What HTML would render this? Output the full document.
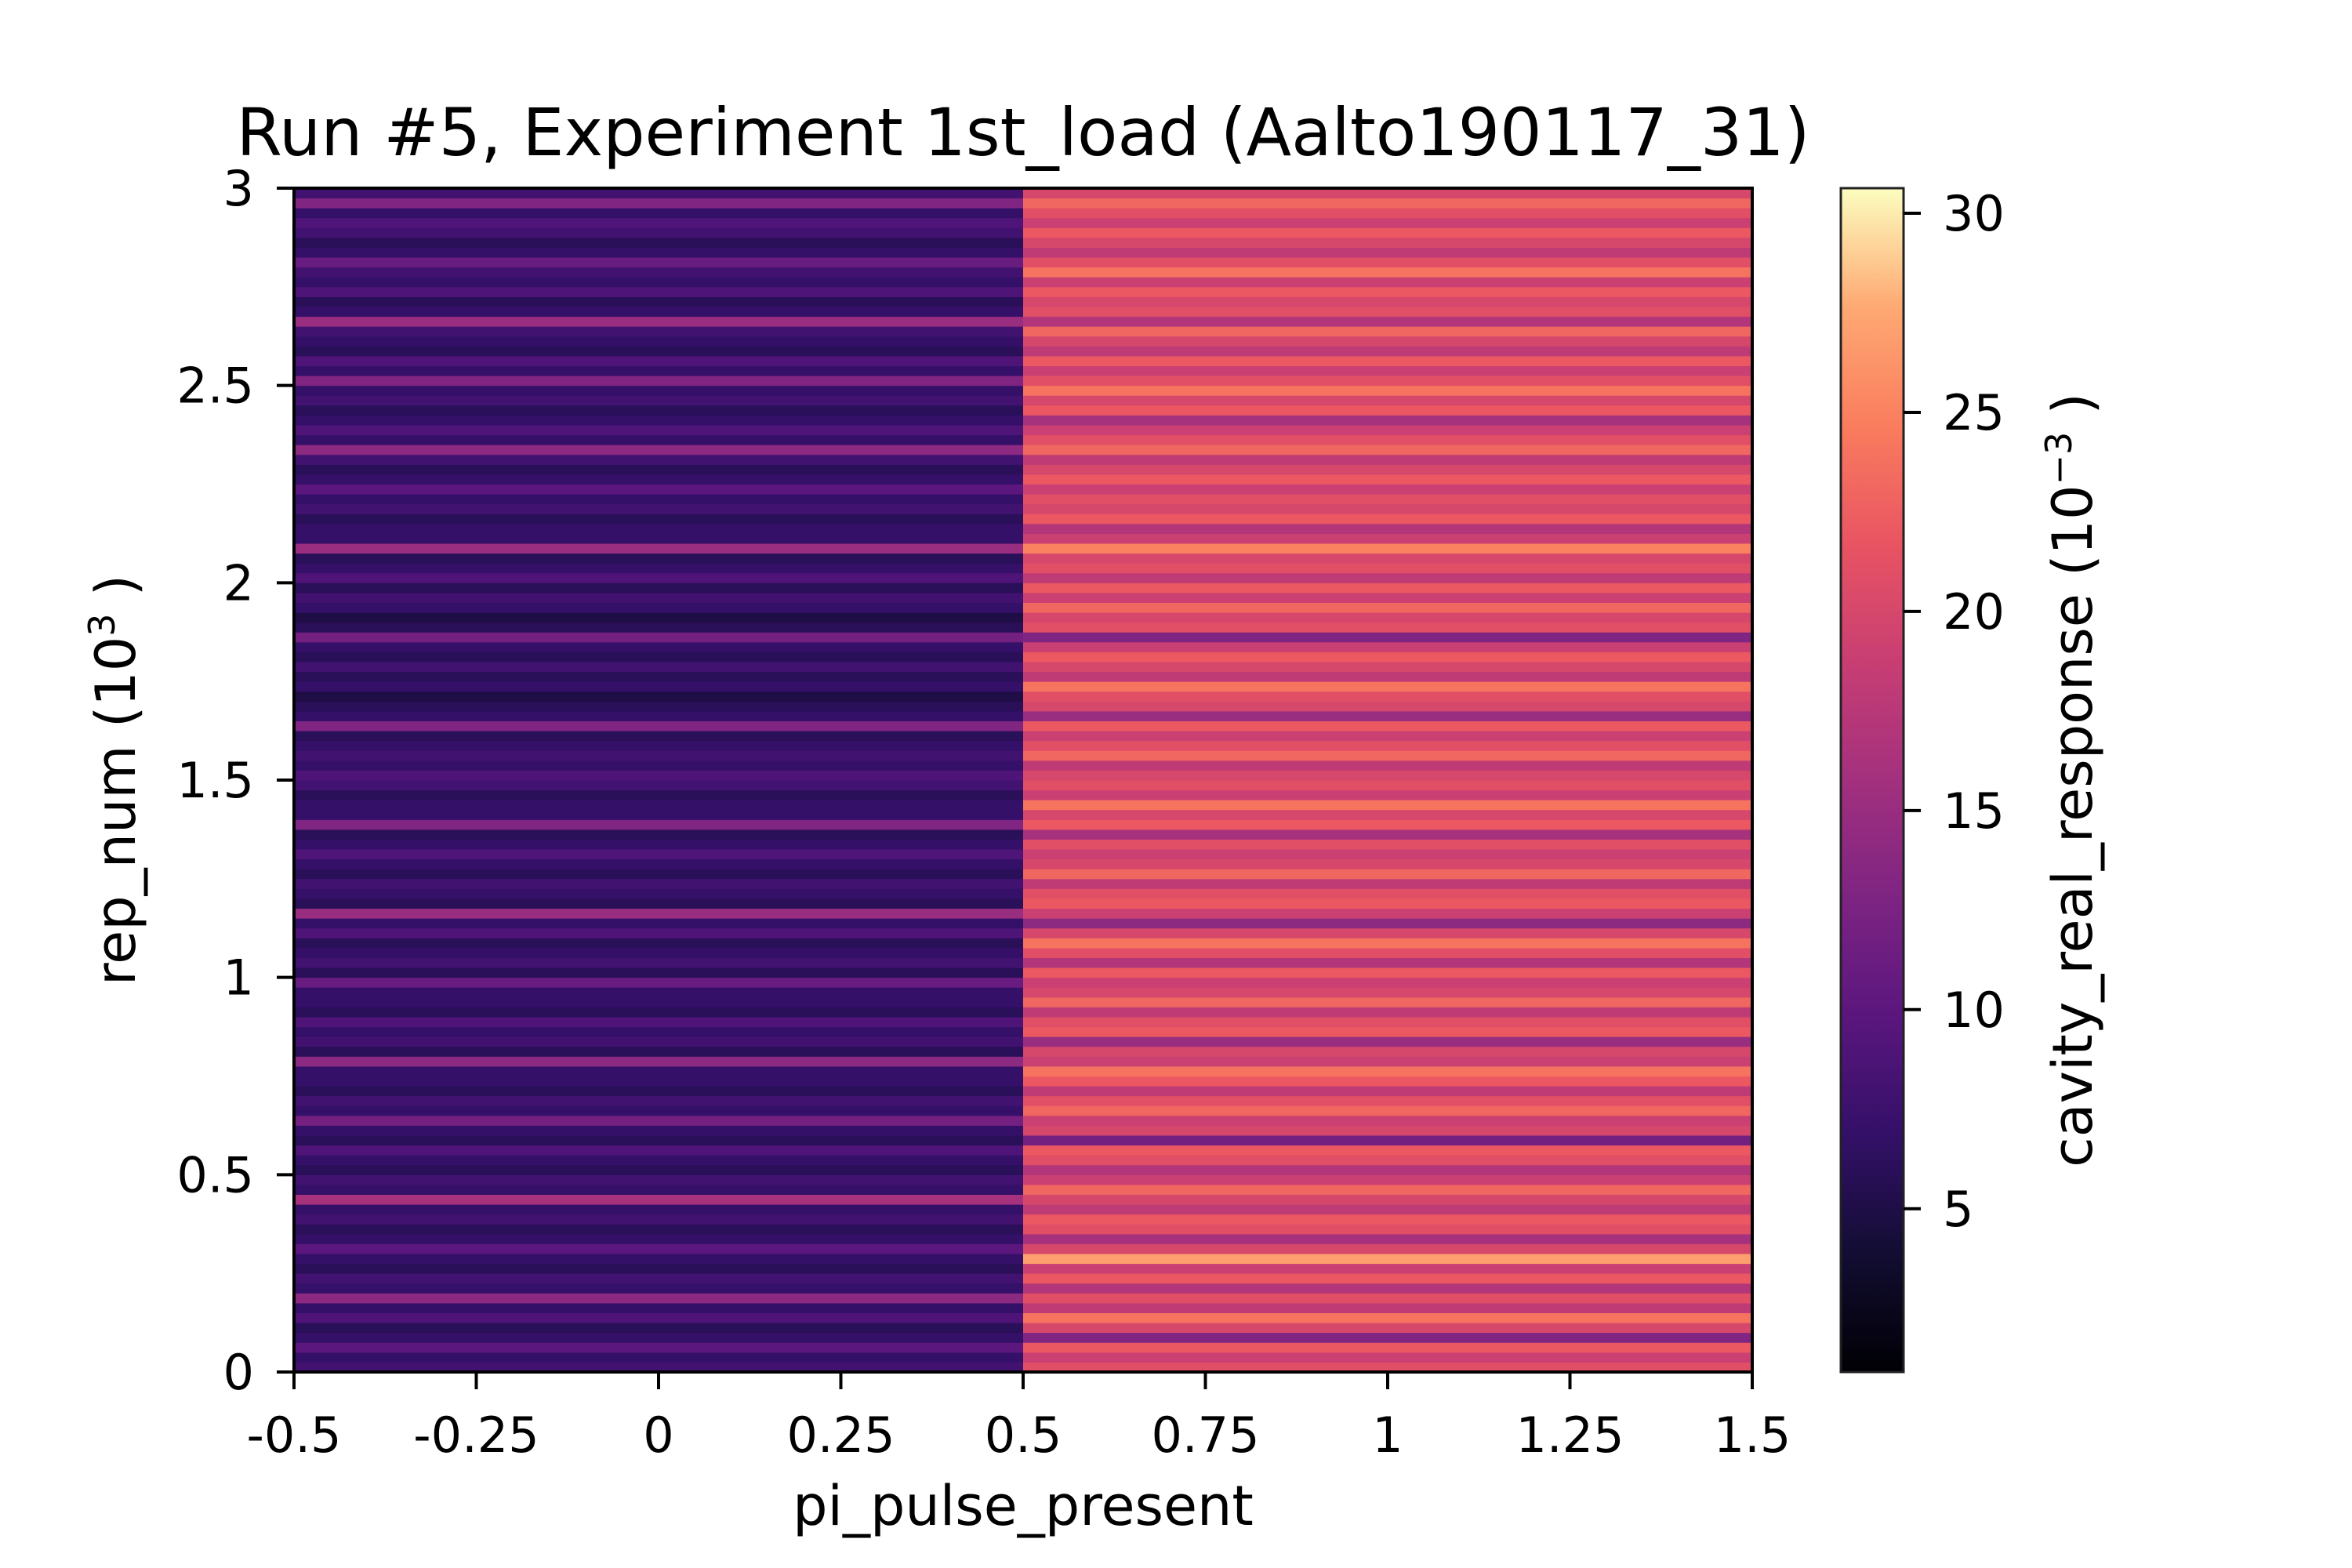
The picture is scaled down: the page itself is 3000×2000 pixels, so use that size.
<!DOCTYPE html>
<html><head><meta charset="utf-8"><style>
html,body{margin:0;padding:0;background:#fff;}
svg{display:block;font-family:"DejaVu Sans","Liberation Sans",sans-serif;}
</style></head><body>
<svg id="chart" width="3000" height="2000" viewBox="0 0 3000 2000" xmlns="http://www.w3.org/2000/svg">
<defs>
<linearGradient id="magma" x1="0" y1="1" x2="0" y2="0">
<stop offset="0" stop-color="#000004"/><stop offset="0.1" stop-color="#120d32"/><stop offset="0.2" stop-color="#331068"/><stop offset="0.3" stop-color="#5a167e"/><stop offset="0.4" stop-color="#7d2482"/><stop offset="0.5" stop-color="#a3307e"/><stop offset="0.6" stop-color="#c83e73"/><stop offset="0.7" stop-color="#e95462"/><stop offset="0.8" stop-color="#fa7d5e"/><stop offset="0.9" stop-color="#fea973"/><stop offset="1" stop-color="#fcfdbf"/>
</linearGradient>
</defs>
<text x="1305" y="198" font-size="84" text-anchor="middle">Run #5, Experiment 1st_load (Aalto190117_31)</text>
<g id="cells"></g>
<rect x="375" y="240" width="1860" height="1510" fill="none" stroke="#000" stroke-width="4"/>
<g id="xaxis"></g>
<g id="yaxis"></g>
<text x="1305" y="1945" font-size="70" text-anchor="middle">pi_pulse_present</text>
<text transform="translate(172,995) rotate(-90)" font-size="70" text-anchor="middle">rep_num (10<tspan font-size="46" dy="-26">3</tspan><tspan dy="26"> )</tspan></text>
<rect x="2348" y="240" width="80" height="1510" fill="url(#magma)" stroke="#222" stroke-width="3"/>
<g id="caxis"></g>
<text transform="translate(2668,995) rotate(-90)" font-size="70" text-anchor="middle">cavity_real_response (10<tspan font-size="46" dy="-26">−3</tspan><tspan dy="26"> )</tspan></text>
</svg>
<script>
const xCategories = [0, 1];
const xTicks = [-0.5, -0.25, 0, 0.25, 0.5, 0.75, 1, 1.25, 1.5];
const xTickLabels = ["-0.5","-0.25","0","0.25","0.5","0.75","1","1.25","1.5"];
const yTicks = [0, 0.5, 1, 1.5, 2, 2.5, 3];
const yTickLabels = ["0","0.5","1","1.5","2","2.5","3"];
const cTicks = [5, 10, 15, 20, 25, 30];
const cRange = [0.9, 30.63];
const repMax = 3;
// values bottom (rep 0) to top (rep 3000), 120 rows each column
const noPulseValues = [8,7,10,7,6,9,7,14,7,8,6,7,10,7,6,8,7,16,7,8,6,7,9,6,7,12,7,8,6,7,
7,14,6,8,7,9,6,7,7,11,6,8,7,6,9,7,15,6,7,8,6,7,9,7,6,13,7,7,6,8,
9,7,8,7,6,13,7,6,5,7,6,8,6,7,12,6,5,7,8,6,9,7,6,15,7,7,6,8,7,10,
7,6,8,14,7,9,7,6,8,7,13,7,9,6,7,8,15,7,6,9,7,8,11,7,6,8,9,7,13,8];
const pulseValues = [21,19,22,13,20,24,18,21,17,22,19,27,20,16,21,22,18,20,23,19,17,21,22,12,20,19,23,21,18,22,
24,19,20,15,22,21,18,23,20,19,22,17,21,24,20,14,19,22,21,18,23,20,19,21,16,22,20,24,19,21,
20,18,23,21,19,22,15,20,21,24,18,20,22,19,13,21,20,23,19,22,18,21,20,25,19,17,22,20,21,19,
22,20,18,23,21,19,16,22,20,24,21,19,22,18,20,23,17,21,20,22,19,24,21,18,20,22,19,21,23,20];
const columns = [noPulseValues, pulseValues];

const NS = "http://www.w3.org/2000/svg";
const PX0 = 375, PX1 = 2235, PY0 = 1750, PY1 = 240, CBX = 2348, CBW = 80;
function xScale(v){ return PX0 + (v + 0.5) / 2 * (PX1 - PX0); }
function yScale(v){ return PY0 - v / repMax * (PY0 - PY1); }
function cScale(v){ return PY0 - (v - cRange[0]) / (cRange[1] - cRange[0]) * (PY0 - PY1); }
const stops = [[0,0,0,4],[0.1,18,13,50],[0.2,51,16,104],[0.3,90,22,126],[0.4,125,36,130],[0.5,163,48,126],[0.6,200,62,115],[0.7,233,84,98],[0.8,250,125,94],[0.9,254,169,115],[1,252,253,191]];
function magma(v){
  let t = Math.max(0, Math.min(1, (v - cRange[0]) / (cRange[1] - cRange[0])));
  for (let i = 1; i < stops.length; i++) {
    if (t <= stops[i][0]) {
      const a = stops[i-1], b = stops[i], f = (t - a[0]) / (b[0] - a[0]);
      return "rgb(" + [1,2,3].map(k => Math.round(a[k] + f * (b[k] - a[k]))).join(",") + ")";
    }
  }
  return "rgb(252,253,191)";
}
function mk(tag, attrs, parent){ const e = document.createElementNS(NS, tag); for (const k in attrs) e.setAttribute(k, attrs[k]); parent.appendChild(e); return e; }

const cells = document.getElementById("cells");
columns.forEach((vals, ci) => {
  const n = vals.length;
  vals.forEach((v, ri) => {
    const y0 = yScale(ri / n * repMax), y1 = yScale((ri + 1) / n * repMax);
    const r = mk("rect", {x: xScale(xCategories[ci] - 0.5), y: y1, width: xScale(xCategories[ci] + 0.5) - xScale(xCategories[ci] - 0.5), height: y0 - y1 + 0.5, fill: magma(v)}, cells);
    
    
  });
});

const xa = document.getElementById("xaxis");
xTicks.forEach((t, i) => {
  const x = xScale(t);
  const l = mk("line", {x1: x, x2: x, y1: PY0, y2: PY0 + 22, stroke: "#000", "stroke-width": 4}, xa);
  
  
  const tx = mk("text", {x: x, y: 1852, "font-size": 62, "text-anchor": "middle"}, xa);
  tx.textContent = xTickLabels[i];
  
  
});
const ya = document.getElementById("yaxis");
yTicks.forEach((t, i) => {
  const y = yScale(t);
  const l = mk("line", {x1: PX0 - 22, x2: PX0, y1: y, y2: y, stroke: "#000", "stroke-width": 4}, ya);
  
  
  const tx = mk("text", {x: 324, y: y + 22, "font-size": 62, "text-anchor": "end"}, ya);
  tx.textContent = yTickLabels[i];
  
  
});
const ca = document.getElementById("caxis");
cTicks.forEach(t => {
  const y = cScale(t);
  const l = mk("line", {x1: CBX + CBW, x2: CBX + CBW + 22, y1: y, y2: y, stroke: "#000", "stroke-width": 4}, ca);
  
  
  const tx = mk("text", {x: 2478, y: y + 22, "font-size": 62}, ca);
  tx.textContent = String(t);
  
  
});
</script>
</body></html>
